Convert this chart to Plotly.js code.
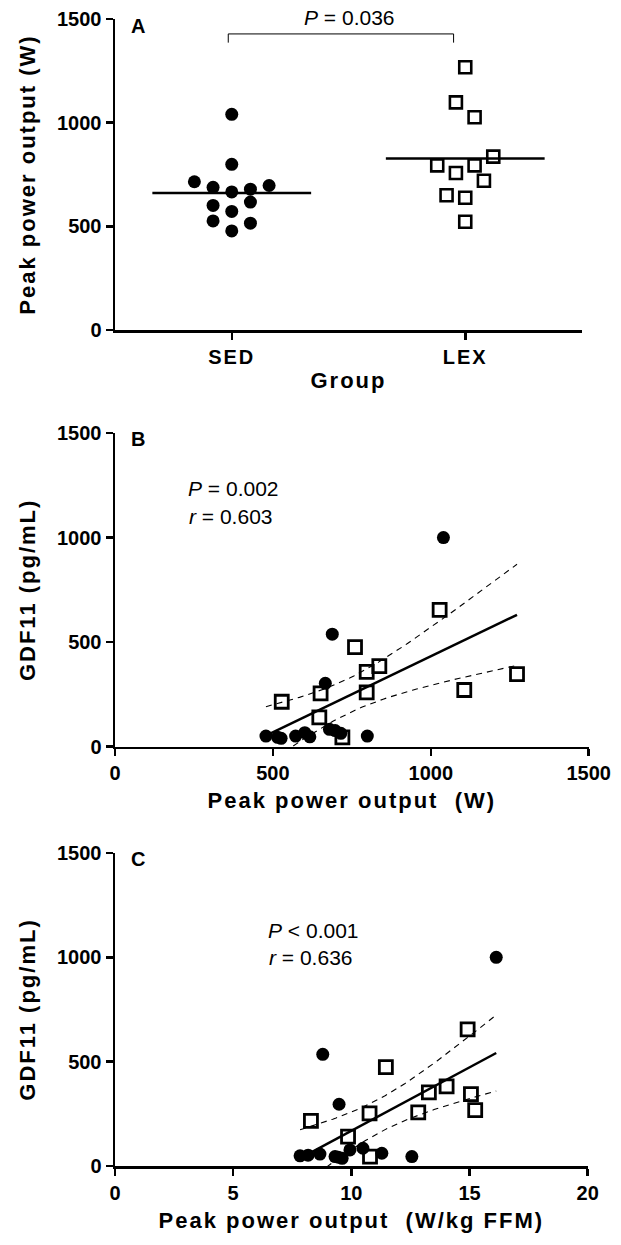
<!DOCTYPE html>
<html>
<head>
<meta charset="utf-8">
<script src="https://cdn.plot.ly/plotly-3.0.1.min.js"></script>
<style>
html,body{margin:0;padding:0;background:#fff;}
#chart{width:621px;height:1245px;}
.xtitle,.x2title,.x3title,.ytitle,.y2title,.y3title{letter-spacing:2px;}
.xtick text{letter-spacing:2px;}
</style>
</head>
<body>
<div id="chart"></div>
<script>
// ---------- Panel A: peak power output by group ----------
const groupLabels = ['SED', 'LEX'];
const sedPowerW = [1040, 799, 715, 688, 666, 679, 697, 601, 617, 572, 526, 515, 478];
const sedSlot   = [0, 0, -4, -2, 0, 2, 4, -2, 2, 0, -2, 2, 0];
const lexPowerW = [1267, 1098, 1026, 836, 794, 794, 757, 720, 650, 638, 522];
const lexSlot   = [0, -1, 1, 3, -3, 1, -1, 2, -2, 0, 0];
const pTextA = 'P = 0.036';
const bracketLeft = 0.985, bracketRight = 1.95, bracketTop = 1428, bracketFoot = 1386;

// ---------- Panel B: GDF11 vs peak power (W) ----------
const sedB_x = [1040, 688, 666, 478, 515, 526, 572, 601, 617, 679, 697, 715, 799];
const sedB_y = [1000, 538, 303, 51, 45, 40, 51, 67, 47, 83, 77, 64, 51];
const lexB_x = [1273, 1106, 1028, 837, 797, 797, 760, 720, 651, 647, 528];
const lexB_y = [347, 271, 654, 385, 358, 260, 476, 45, 255, 140, 215];
const statsB = ['P = 0.002', 'r = 0.603'];

// ---------- Panel C: GDF11 vs peak power (W/kg FFM) ----------
const sedC_x = [16.13, 8.79, 9.48, 7.83, 8.17, 8.67, 9.31, 9.45, 9.61, 9.94, 10.49, 11.29, 12.56];
const sedC_y = [1000, 535, 296, 49, 52, 57, 45, 42, 37, 77, 85, 61, 45];
const lexC_x = [15.06, 15.24, 14.92, 14.03, 13.28, 12.83, 11.46, 10.79, 10.77, 9.86, 8.29];
const lexC_y = [344, 268, 655, 382, 353, 257, 474, 45, 252, 141, 216];
const statsC = ['P &lt; 0.001', 'r = 0.636'];

const yTicks = [0, 500, 1000, 1500];
const xTicksB = [0, 500, 1000, 1500];
const xTicksC = [0, 5, 10, 15, 20];

// ---------- helpers ----------
const FONT = 'Arial, "Liberation Sans", Helvetica, sans-serif';
const W = 621, H = 1245, ML = 115, MR = 32, MT = 19, MB = 79;
const PW = W - ML - MR, PH = H - MT - MB;
const fx = px => (px - ML) / PW;
const fy = py => (H - MB - py) / PH;
const mean = a => a.reduce((s, v) => s + v, 0) / a.length;

function fitBand(xs, ys) {
  const n = xs.length, mx = mean(xs), my = mean(ys);
  let sxx = 0, sxy = 0;
  xs.forEach((x, i) => { sxx += (x - mx) ** 2; sxy += (x - mx) * (ys[i] - my); });
  const b = sxy / sxx, a = my - b * mx;
  let sse = 0;
  xs.forEach((x, i) => { sse += (ys[i] - (a + b * x)) ** 2; });
  const s = Math.sqrt(sse / (n - 2));
  const t = 2.074; // t(0.975, df = 22)
  const lo = Math.min(...xs), hi = Math.max(...xs);
  const gx = [], fit = [], up = [], dn = [];
  for (let k = 0; k <= 60; k++) {
    const x = lo + (hi - lo) * k / 60;
    const yh = a + b * x;
    const se = s * Math.sqrt(1 / n + (x - mx) ** 2 / sxx);
    gx.push(x); fit.push(yh); up.push(yh + t * se); dn.push(yh - t * se);
  }
  return { gx, fit, up, dn };
}

const traces = [];
// Panel A
const sedMean = mean(sedPowerW), lexMean = mean(lexPowerW);
traces.push({ x: [1 - 0.34, 1 + 0.34], y: [sedMean, sedMean], mode: 'lines', line: { color: '#000', width: 2.5 }, xaxis: 'x', yaxis: 'y', hoverinfo: 'skip' });
traces.push({ x: [2 - 0.34, 2 + 0.34], y: [lexMean, lexMean], mode: 'lines', line: { color: '#000', width: 2.5 }, xaxis: 'x', yaxis: 'y', hoverinfo: 'skip' });
traces.push({ x: [bracketLeft, bracketLeft, bracketRight, bracketRight], y: [bracketFoot, bracketTop, bracketTop, bracketFoot], mode: 'lines', line: { color: '#000', width: 1 }, xaxis: 'x', yaxis: 'y', hoverinfo: 'skip' });
traces.push({ x: sedSlot.map(s => 1 + s * 0.04), y: sedPowerW, mode: 'markers', marker: { symbol: 'circle', size: 13, color: '#000' }, xaxis: 'x', yaxis: 'y' });
traces.push({ x: lexSlot.map(s => 2 + s * 0.04), y: lexPowerW, mode: 'markers', marker: { symbol: 'square-open', size: 12, color: '#000', line: { color: '#000', width: 2.6 } }, xaxis: 'x', yaxis: 'y' });

function scatterPanel(xa, ya, sx, sy, lx, ly, sqSize) {
  const f = fitBand(sx.concat(lx), sy.concat(ly));
  traces.push({ x: sx, y: sy, mode: 'markers', marker: { symbol: 'circle', size: 13, color: '#000' }, xaxis: xa, yaxis: ya });
  traces.push({ x: lx, y: ly, mode: 'markers', marker: { symbol: 'square-open', size: sqSize, color: '#000', line: { color: '#000', width: 2.8 } }, xaxis: xa, yaxis: ya });
  traces.push({ x: f.gx, y: f.fit, mode: 'lines', line: { color: '#000', width: 2.5 }, xaxis: xa, yaxis: ya, hoverinfo: 'skip' });
  traces.push({ x: f.gx, y: f.up, mode: 'lines', line: { color: '#000', width: 1.1, dash: '6px,5px' }, xaxis: xa, yaxis: ya, hoverinfo: 'skip' });
  traces.push({ x: f.gx, y: f.dn, mode: 'lines', line: { color: '#000', width: 1.1, dash: '6px,5px' }, xaxis: xa, yaxis: ya, hoverinfo: 'skip' });
}
scatterPanel('x2', 'y2', sedB_x, sedB_y, lexB_x, lexB_y, 13);
scatterPanel('x3', 'y3', sedC_x, sedC_y, lexC_x, lexC_y, 13);

const tickFont = { family: FONT, size: 20, color: '#000', weight: 'bold' };
const titleFont = { family: FONT, size: 22, color: '#000', weight: 'bold' };
const baseAxis = {
  showline: true, linecolor: '#000', linewidth: 2.5, mirror: false,
  ticks: 'outside', ticklen: 7, tickwidth: 2.5, tickcolor: '#000',
  showgrid: false, zeroline: false, tickfont: tickFont, fixedrange: true
};

const layout = {
  width: W, height: H,
  margin: { l: ML, r: MR, t: MT, b: MB, pad: 0 },
  paper_bgcolor: '#fff', plot_bgcolor: '#fff',
  showlegend: false,
  xaxis: Object.assign({}, baseAxis, { domain: [0, fx(582)], anchor: 'y', range: [0.5, 2.5], tickmode: 'array', tickvals: [1, 2], ticktext: groupLabels, title: { text: 'Group', font: titleFont, standoff: 6 } }),
  yaxis: Object.assign({}, baseAxis, { domain: [fy(330), 1], anchor: 'x', range: [0, 1500], tickmode: 'array', tickvals: yTicks, title: { text: 'Peak power output (W)', font: titleFont, standoff: 16 } }),
  xaxis2: Object.assign({}, baseAxis, { domain: [0, fx(588.7)], anchor: 'y2', range: [0, 1500], tickmode: 'array', tickvals: xTicksB, title: { text: 'Peak power output \u00a0(W)', font: titleFont, standoff: 10 } }),
  yaxis2: Object.assign({}, baseAxis, { domain: [fy(746.7), fy(433)], anchor: 'x2', range: [0, 1500], tickmode: 'array', tickvals: yTicks, title: { text: 'GDF11 (pg/mL)', font: titleFont, standoff: 16 } }),
  xaxis3: Object.assign({}, baseAxis, { domain: [0, fx(587.7)], anchor: 'y3', range: [0, 20], tickmode: 'array', tickvals: xTicksC, title: { text: 'Peak power output \u00a0(W/kg FFM)', font: titleFont, standoff: 10 } }),
  yaxis3: Object.assign({}, baseAxis, { domain: [0, fy(853)], anchor: 'x3', range: [0, 1500], tickmode: 'array', tickvals: yTicks, title: { text: 'GDF11 (pg/mL)', font: titleFont, standoff: 16 } }),
  annotations: [
    { text: 'A', x: fx(138), y: fy(26), xanchor: 'center', yanchor: 'middle', xref: 'paper', yref: 'paper', showarrow: false, font: { family: FONT, size: 20, weight: 'bold', color: '#000' } },
    { text: 'B', x: fx(138), y: fy(439), xanchor: 'center', yanchor: 'middle', xref: 'paper', yref: 'paper', showarrow: false, font: { family: FONT, size: 20, weight: 'bold', color: '#000' } },
    { text: 'C', x: fx(138), y: fy(859), xanchor: 'center', yanchor: 'middle', xref: 'paper', yref: 'paper', showarrow: false, font: { family: FONT, size: 20, weight: 'bold', color: '#000' } },
    { text: pTextA.replace('P', '<i>P</i>'), x: fx(349), y: fy(18), xanchor: 'center', yanchor: 'middle', xref: 'paper', yref: 'paper', showarrow: false, font: { family: FONT, size: 21, color: '#000' } },
    { text: statsB[0].replace('P', '<i>P</i>'), x: fx(186), y: fy(489), xanchor: 'left', yanchor: 'middle', xref: 'paper', yref: 'paper', showarrow: false, font: { family: FONT, size: 21, color: '#000' } },
    { text: statsB[1].replace('r', '<i>r</i>'), x: fx(187), y: fy(516), xanchor: 'left', yanchor: 'middle', xref: 'paper', yref: 'paper', showarrow: false, font: { family: FONT, size: 21, color: '#000' } },
    { text: statsC[0].replace('P', '<i>P</i>'), x: fx(266), y: fy(930), xanchor: 'left', yanchor: 'middle', xref: 'paper', yref: 'paper', showarrow: false, font: { family: FONT, size: 21, color: '#000' } },
    { text: statsC[1].replace('r', '<i>r</i>'), x: fx(267), y: fy(957), xanchor: 'left', yanchor: 'middle', xref: 'paper', yref: 'paper', showarrow: false, font: { family: FONT, size: 21, color: '#000' } }
  ]
};

Plotly.newPlot('chart', traces, layout, { staticPlot: true, displayModeBar: false });
</script>
</body>
</html>
